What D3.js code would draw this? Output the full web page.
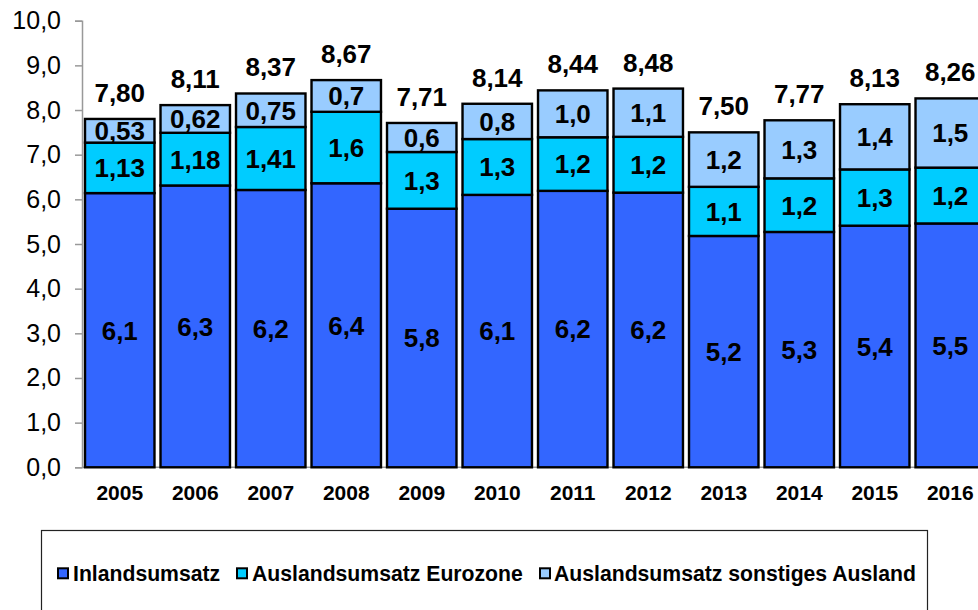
<!DOCTYPE html>
<html><head><meta charset="utf-8">
<script src="https://cdn.jsdelivr.net/npm/d3@7"></script>
<style>body{margin:0;background:#fff}svg{display:block}text{font-family:Arial,"Liberation Sans",sans-serif}</style>
</head><body><svg id="c" width="978" height="610"></svg>
<script>
const years = ["2005","2006","2007","2008","2009","2010","2011","2012","2013","2014","2015","2016"];
const inland = [6.14,6.31,6.21,6.36,5.79,6.10,6.19,6.15,5.18,5.27,5.41,5.46];
const euro   = [1.13,1.18,1.41,1.60,1.27,1.25,1.20,1.25,1.10,1.20,1.26,1.25];
const other  = [0.53,0.62,0.75,0.71,0.65,0.79,1.05,1.08,1.22,1.30,1.46,1.55];
const inlandLabels = ["6,1","6,3","6,2","6,4","5,8","6,1","6,2","6,2","5,2","5,3","5,4","5,5"];
const euroLabels   = ["1,13","1,18","1,41","1,6","1,3","1,3","1,2","1,2","1,1","1,2","1,3","1,2"];
const otherLabels  = ["0,53","0,62","0,75","0,7","0,6","0,8","1,0","1,1","1,2","1,3","1,4","1,5"];
const totalLabels  = ["7,80","8,11","8,37","8,67","7,71","8,14","8,44","8,48","7,50","7,77","8,13","8,26"];
const seriesNames = ["Inlandsumsatz","Auslandsumsatz Eurozone","Auslandsumsatz sonstiges Ausland"];
const colors = ["#3366FF","#00CCFF","#99CCFF"];
const yTicks = [0,1,2,3,4,5,6,7,8,9,10];

const svg = d3.select("#c");
const x = d3.scaleBand().domain(years).range([82, 988]).paddingInner(0.08).paddingOuter(0.04);
const y = d3.scaleLinear().domain([0,10]).range([467.3, 20.7]);

const rows = years.map((yr,i)=>({year:yr, inland:inland[i], euro:euro[i], other:other[i]}));
const stack = d3.stack().keys(["inland","euro","other"])(rows);
const labelSets = [inlandLabels, euroLabels, otherLabels];

// axes
const yAxis = d3.axisLeft(y).tickValues(yTicks).tickSize(7).tickPadding(14)
  .tickFormat(d=>d3.format(".1f")(d).replace(".",","));
const gy = svg.append("g").attr("transform","translate(82,0)").call(yAxis);
gy.select(".domain").attr("stroke","#999").attr("stroke-width",1.5);
gy.selectAll(".tick line").attr("stroke","#999").attr("stroke-width",1.5);
gy.selectAll(".tick text").attr("font-size",25).attr("fill","#000").attr("font-family","Arial, 'Liberation Sans', sans-serif");

svg.append("line").attr("x1",82).attr("x2",978).attr("y1",y(0)).attr("y2",y(0)).attr("stroke","#999").attr("stroke-width",1.5);

// bars
stack.forEach((s,si)=>{
  const g = svg.append("g");
  g.selectAll("rect").data(s).enter().append("rect")
    .attr("x",d=>x(d.data.year)).attr("width",x.bandwidth())
    .attr("y",d=>y(d[1])).attr("height",d=>y(d[0])-y(d[1]))
    .attr("fill",colors[si]).attr("stroke","#000").attr("stroke-width",2.4);
});
stack.forEach((s,si)=>{
  svg.append("g").selectAll("text").data(s).enter().append("text")
    .attr("x",d=>x(d.data.year)+x.bandwidth()/2)
    .attr("y",d=>(y(d[0])+y(d[1]))/2)
    .attr("dy","0.36em").attr("text-anchor","middle")
    .attr("font-size",26).attr("font-weight","bold").attr("fill","#000")
    .text((d,i)=>labelSets[si][i]);
});
// totals
svg.append("g").selectAll("text").data(stack[2]).enter().append("text")
  .attr("x",d=>x(d.data.year)+x.bandwidth()/2)
  .attr("y",d=>y(d[1])-17)
  .attr("text-anchor","middle").attr("font-size",26).attr("font-weight","bold").attr("fill","#000")
  .text((d,i)=>totalLabels[i]);

// x labels
svg.append("g").selectAll("text").data(years).enter().append("text")
  .attr("x",d=>x(d)+x.bandwidth()/2).attr("y",500)
  .attr("text-anchor","middle").attr("font-size",21).attr("font-weight","bold").attr("fill","#000")
  .text(d=>d);

// legend
svg.append("rect").attr("x",41.5).attr("y",530.5).attr("width",886).attr("height",120)
  .attr("fill","#fff").attr("stroke","#222").attr("stroke-width",1.2);
const legSq = [58, 237, 540];
const legTx = [73, 252, 554];
const lg = svg.append("g");
seriesNames.forEach((n,i)=>{
  lg.append("rect").attr("x",legSq[i]).attr("y",568.3).attr("width",10).attr("height",10)
    .attr("fill",colors[i]).attr("stroke","#000").attr("stroke-width",2);
  lg.append("text").attr("x",legTx[i]).attr("y",581).attr("font-size",21.2).attr("font-weight","bold")
    .attr("fill","#000").text(n);
});
</script></body></html>
